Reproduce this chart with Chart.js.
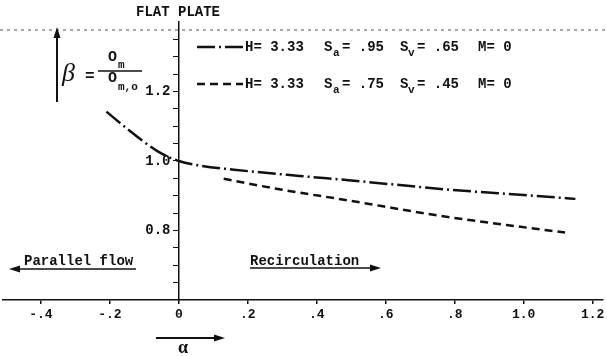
<!DOCTYPE html>
<html>
<head>
<meta charset="utf-8">
<script src="https://cdn.jsdelivr.net/npm/chart.js@4.4.1/dist/chart.umd.min.js"></script>
<style>
    html, body { margin: 0; padding: 0; background: #fff; }
    #wrap { width: 607px; height: 356px; }
</style>
</head>
<body>
<div id="wrap"><canvas id="flatPlateChart" width="607" height="356"></canvas></div>
<script>
// values (alpha -> beta)
const alphaSa95 = [-0.21, -0.14, -0.06, 0, 0.06, 0.16, 0.35, 0.5, 0.79, 1.0, 1.15];
const betaSa95 = [1.142, 1.085, 1.027, 1.0, 0.987, 0.975, 0.957, 0.944, 0.917, 0.902, 0.891];
const alphaSa75 = [0.13, 0.3, 0.47, 0.76, 0.95, 1.12];
const betaSa75 = [0.949, 0.917, 0.89, 0.842, 0.816, 0.794];

const xTicks = [-0.4, -0.2, 0, 0.2, 0.4, 0.6, 0.8, 1.0, 1.2];
const xTickLabels = ['-.4', '-.2', '0', '.2', '.4', '.6', '.8', '1.0', '1.2'];
const yTicks = [0.65, 0.7, 0.75, 0.8, 0.85, 0.9, 0.95, 1.0, 1.05, 1.1, 1.15, 1.2, 1.25, 1.3, 1.35];
const yLabeled = [0.8, 1.0, 1.2];
const yLabelText = ['0.8', '1.0', '1.2'];

const ink = '#111';
const mono = '"Liberation Mono", "DejaVu Sans Mono", monospace';
const dashDot = [18, 4, 2, 4];
const dashed = [8, 5];

function arrow(ctx, x1, y1, x2, y2) {
    const a = Math.atan2(y2 - y1, x2 - x1);
    ctx.beginPath();
    ctx.moveTo(x1, y1);
    ctx.lineTo(x2, y2);
    ctx.stroke();
    ctx.beginPath();
    ctx.moveTo(x2 + 3 * Math.cos(a), y2 + 3 * Math.sin(a));
    ctx.lineTo(x2 - 8 * Math.cos(a) + 3.5 * Math.sin(a), y2 - 8 * Math.sin(a) - 3.5 * Math.cos(a));
    ctx.lineTo(x2 - 8 * Math.cos(a) - 3.5 * Math.sin(a), y2 - 8 * Math.sin(a) + 3.5 * Math.cos(a));
    ctx.closePath();
    ctx.fill();
}

function txt(ctx, s, x, y, size, family) {
    ctx.font = 'bold ' + size + 'px ' + (family || mono);
    ctx.fillText(s, x, y);
}

function legendRow(ctx, y, dash, sa, sv) {
    ctx.save();
    ctx.lineWidth = 2.5;
    ctx.setLineDash(dash);
    ctx.beginPath();
    ctx.moveTo(197, y);
    ctx.lineTo(243, y);
    ctx.stroke();
    ctx.restore();
    txt(ctx, 'H= 3.33', 245, y, 14);
    txt(ctx, 'S', 324, y, 14);
    txt(ctx, 'a', 333, y + 6, 11);
    txt(ctx, '= ' + sa, 342, y, 14);
    txt(ctx, 'S', 400, y, 14);
    txt(ctx, 'v', 408, y + 6, 11);
    txt(ctx, '= ' + sv, 417, y, 14);
    txt(ctx, 'M= 0', 478, y, 14);
}

const annotations = {
    id: 'annotations',
    beforeDraw(chart) {
        const ctx = chart.ctx;
        ctx.save();
        ctx.fillStyle = '#fff';
        ctx.fillRect(0, 0, chart.width, chart.height);
        ctx.restore();
    },
    afterDraw(chart) {
        const ctx = chart.ctx;
        const ys = chart.scales.y;
        ctx.save();
        ctx.fillStyle = ink;
        ctx.strokeStyle = ink;
        ctx.textBaseline = 'middle';
        ctx.textAlign = 'left';

        // dotted frame line at the top
        const topY = ys.getPixelForValue(1.377);
        ctx.save();
        ctx.strokeStyle = '#555';
        ctx.lineWidth = 1;
        ctx.setLineDash([3, 4]);
        ctx.beginPath();
        ctx.moveTo(0, topY);
        ctx.lineTo(chart.width, topY);
        ctx.stroke();
        ctx.restore();

        // title
        ctx.textAlign = 'center';
        txt(ctx, 'FLAT PLATE', 178, 12, 14);
        ctx.textAlign = 'left';

        // legend
        legendRow(ctx, 47, dashDot, '.95', '.65');
        legendRow(ctx, 84, dashed, '.75', '.45');

        // beta definition with arrow
        ctx.lineWidth = 2;
        arrow(ctx, 57, 102, 57, 30);
        ctx.font = 'italic 26px "Liberation Serif", serif';
        ctx.fillText('\u03b2', 62, 74);
        txt(ctx, '=', 85, 77, 16);
        ctx.lineWidth = 1.5;
        ctx.beginPath();
        ctx.moveTo(98, 71);
        ctx.lineTo(142, 71);
        ctx.stroke();
        txt(ctx, 'O', 108, 57, 15);
        txt(ctx, 'm', 118, 65, 11);
        txt(ctx, 'O', 108, 78, 15);
        txt(ctx, 'm,o', 118, 87, 11);

        // flow direction notes
        ctx.lineWidth = 1.5;
        txt(ctx, 'Parallel flow', 24, 261, 14);
        arrow(ctx, 136, 269, 12, 269);
        txt(ctx, 'Recirculation', 250, 261, 14);
        arrow(ctx, 250, 268, 378, 268);

        // alpha axis label
        ctx.lineWidth = 2;
        arrow(ctx, 156, 338, 222, 338);
        ctx.textAlign = 'center';
        ctx.font = 'bold 18px "Liberation Serif", serif';
        ctx.fillText('\u03b1', 183, 348);
        ctx.restore();
    }
};

new Chart(document.getElementById('flatPlateChart'), {
    type: 'line',
    data: {
        datasets: [{
            label: 'H=3.33 Sa=.95 Sv=.65 M=0',
            data: alphaSa95.map((a, i) => ({ x: a, y: betaSa95[i] })),
            borderColor: ink,
            borderWidth: 2.5,
            borderDash: dashDot,
            pointRadius: 0,
            tension: 0.4,
            cubicInterpolationMode: 'monotone',
            fill: false
        }, {
            label: 'H=3.33 Sa=.75 Sv=.45 M=0',
            data: alphaSa75.map((a, i) => ({ x: a, y: betaSa75[i] })),
            borderColor: ink,
            borderWidth: 2.5,
            borderDash: dashed,
            pointRadius: 0,
            tension: 0.4,
            cubicInterpolationMode: 'monotone',
            fill: false
        }]
    },
    options: {
        responsive: false,
        devicePixelRatio: 1,
        animation: false,
        layout: { padding: { left: 3, right: 4, top: 22, bottom: 36 } },
        plugins: { legend: { display: false }, tooltip: { enabled: false } },
        scales: {
            x: {
                type: 'linear',
                min: -0.51,
                max: 1.23,
                afterBuildTicks: scale => { scale.ticks = xTicks.map(v => ({ value: v })); },
                afterFit: scale => { scale.height = 20; scale.paddingLeft = 0; scale.paddingRight = 0; },
                grid: { drawOnChartArea: false, tickLength: 4, color: ink, lineWidth: 1.5 },
                border: { color: ink, width: 1.5 },
                ticks: {
                    callback: (v, i) => xTickLabels[i],
                    font: { family: mono, size: 13, weight: 'bold' },
                    color: ink,
                    padding: 3,
                    maxRotation: 0,
                    autoSkip: false
                }
            },
            y: {
                type: 'linear',
                min: 0.6,
                max: 1.4,
                position: { x: 0 },
                afterBuildTicks: scale => { scale.ticks = yTicks.map(v => ({ value: v })); },
                grid: { drawOnChartArea: false, tickLength: 5, color: ink, lineWidth: 1 },
                border: { color: ink, width: 1.5 },
                ticks: {
                    // trailing space keeps the label clear of the axis line
                    callback: function (value) {
                        const i = yLabeled.findIndex(v => Math.abs(v - value) < 1e-6);
                        return i >= 0 ? yLabelText[i] + ' ' : '';
                    },
                    font: { family: mono, size: 14, weight: 'bold' },
                    color: ink,
                    autoSkip: false
                }
            }
        }
    },
    plugins: [annotations]
});
</script>
</body>
</html>
